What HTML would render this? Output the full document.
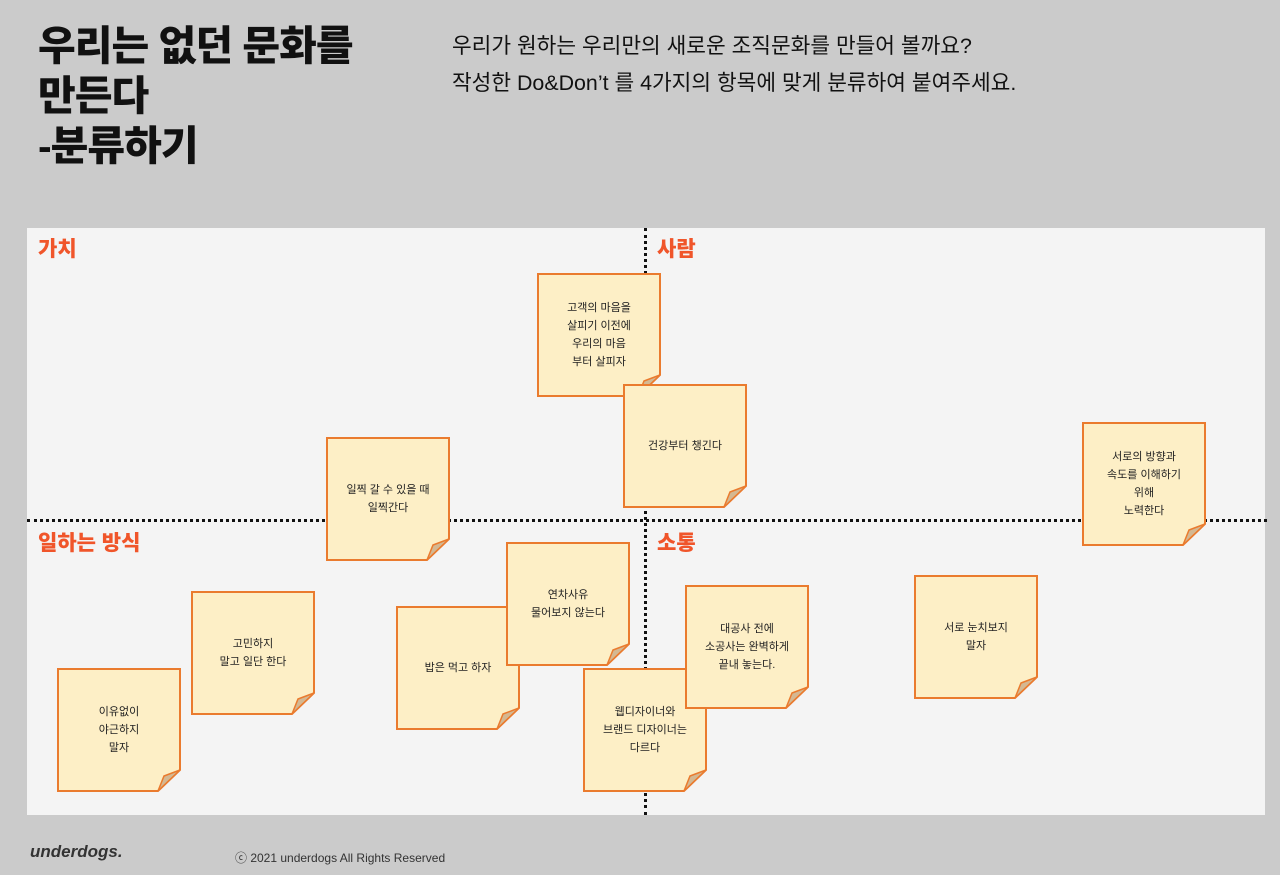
<!DOCTYPE html>
<html><head><meta charset="utf-8"><style>
body{margin:0;width:1280px;height:875px;background:#cbcbcb;position:relative;overflow:hidden;font-family:"Liberation Sans","Noto Sans CJK KR",sans-serif;}
.t{position:absolute;left:38px;top:21px;font-size:41px;font-weight:900;line-height:50px;color:#111;letter-spacing:-1px}
.sub{position:absolute;left:452px;top:28px;font-size:21.4px;line-height:37px;color:#111}
.panel{position:absolute;left:27px;top:228px;width:1238px;height:587px;background:#f4f4f4}
.vl{position:absolute;left:644px;top:228px;height:587px;border-left:3px dotted #111}
.hl{position:absolute;left:27px;top:519px;width:1240px;border-top:3px dotted #111}
.lab{position:absolute;font-size:21px;font-weight:900;color:#f0552a}
.n{position:absolute;width:124px;height:124px}
.n svg{position:absolute;left:0;top:0}
.n div{position:absolute;left:0;top:0;width:124px;height:124px;display:flex;align-items:center;justify-content:center;text-align:center;font-size:11px;line-height:18px;color:#222}
.ft1{position:absolute;left:30px;top:842px;font-size:17px;font-weight:900;font-style:italic;color:#333}
.ft2{position:absolute;left:235px;top:849px;font-size:12px;color:#333}
</style></head><body>
<div class="t">우리는 없던 문화를<br>만든다<br>-분류하기</div>
<div class="sub">우리가 원하는 우리만의 새로운 조직문화를 만들어 볼까요?<br>작성한 Do&amp;Don’t 를 4가지의 항목에 맞게 분류하여 붙여주세요.</div>
<div class="panel"></div>
<div class="vl"></div><div class="hl"></div>
<div class="lab" style="left:38px;top:233px">가치</div>
<div class="lab" style="left:657px;top:233px">사람</div>
<div class="lab" style="left:38px;top:527px">일하는 방식</div>
<div class="lab" style="left:657px;top:527px">소통</div>

<div class="n" style="left:537px;top:273px"><svg width="124" height="124"><path d="M1 1H123V102L101 123H1Z" fill="#fdefc6" stroke="#ea7b2e" stroke-width="2"/><path d="M101 123L107 108L123 102Z" fill="#d4b892" stroke="#ea7b2e" stroke-width="1.5"/></svg><div>고객의 마음을<br>살피기 이전에<br>우리의 마음<br>부터 살피자</div></div>
<div class="n" style="left:623px;top:384px"><svg width="124" height="124"><path d="M1 1H123V102L101 123H1Z" fill="#fdefc6" stroke="#ea7b2e" stroke-width="2"/><path d="M101 123L107 108L123 102Z" fill="#d4b892" stroke="#ea7b2e" stroke-width="1.5"/></svg><div>건강부터 챙긴다</div></div>
<div class="n" style="left:326px;top:437px"><svg width="124" height="124"><path d="M1 1H123V102L101 123H1Z" fill="#fdefc6" stroke="#ea7b2e" stroke-width="2"/><path d="M101 123L107 108L123 102Z" fill="#d4b892" stroke="#ea7b2e" stroke-width="1.5"/></svg><div>일찍 갈 수 있을 때<br>일찍간다</div></div>
<div class="n" style="left:1082px;top:422px"><svg width="124" height="124"><path d="M1 1H123V102L101 123H1Z" fill="#fdefc6" stroke="#ea7b2e" stroke-width="2"/><path d="M101 123L107 108L123 102Z" fill="#d4b892" stroke="#ea7b2e" stroke-width="1.5"/></svg><div>서로의 방향과<br>속도를 이해하기<br>위해<br>노력한다</div></div>
<div class="n" style="left:191px;top:591px"><svg width="124" height="124"><path d="M1 1H123V102L101 123H1Z" fill="#fdefc6" stroke="#ea7b2e" stroke-width="2"/><path d="M101 123L107 108L123 102Z" fill="#d4b892" stroke="#ea7b2e" stroke-width="1.5"/></svg><div>고민하지<br>말고 일단 한다</div></div>
<div class="n" style="left:57px;top:668px"><svg width="124" height="124"><path d="M1 1H123V102L101 123H1Z" fill="#fdefc6" stroke="#ea7b2e" stroke-width="2"/><path d="M101 123L107 108L123 102Z" fill="#d4b892" stroke="#ea7b2e" stroke-width="1.5"/></svg><div>이유없이<br>야근하지<br>말자</div></div>
<div class="n" style="left:396px;top:606px"><svg width="124" height="124"><path d="M1 1H123V102L101 123H1Z" fill="#fdefc6" stroke="#ea7b2e" stroke-width="2"/><path d="M101 123L107 108L123 102Z" fill="#d4b892" stroke="#ea7b2e" stroke-width="1.5"/></svg><div>밥은 먹고 하자</div></div>
<div class="n" style="left:506px;top:542px"><svg width="124" height="124"><path d="M1 1H123V102L101 123H1Z" fill="#fdefc6" stroke="#ea7b2e" stroke-width="2"/><path d="M101 123L107 108L123 102Z" fill="#d4b892" stroke="#ea7b2e" stroke-width="1.5"/></svg><div>연차사유<br>물어보지 않는다</div></div>
<div class="n" style="left:583px;top:668px"><svg width="124" height="124"><path d="M1 1H123V102L101 123H1Z" fill="#fdefc6" stroke="#ea7b2e" stroke-width="2"/><path d="M101 123L107 108L123 102Z" fill="#d4b892" stroke="#ea7b2e" stroke-width="1.5"/></svg><div>웹디자이너와<br>브랜드 디자이너는<br>다르다</div></div>
<div class="n" style="left:685px;top:585px"><svg width="124" height="124"><path d="M1 1H123V102L101 123H1Z" fill="#fdefc6" stroke="#ea7b2e" stroke-width="2"/><path d="M101 123L107 108L123 102Z" fill="#d4b892" stroke="#ea7b2e" stroke-width="1.5"/></svg><div>대공사 전에<br>소공사는 완벽하게<br>끝내 놓는다.</div></div>
<div class="n" style="left:914px;top:575px"><svg width="124" height="124"><path d="M1 1H123V102L101 123H1Z" fill="#fdefc6" stroke="#ea7b2e" stroke-width="2"/><path d="M101 123L107 108L123 102Z" fill="#d4b892" stroke="#ea7b2e" stroke-width="1.5"/></svg><div>서로 눈치보지<br>말자</div></div>

<div class="ft1">underdogs.</div>
<div class="ft2">ⓒ 2021 underdogs All Rights Reserved</div>
</body></html>
